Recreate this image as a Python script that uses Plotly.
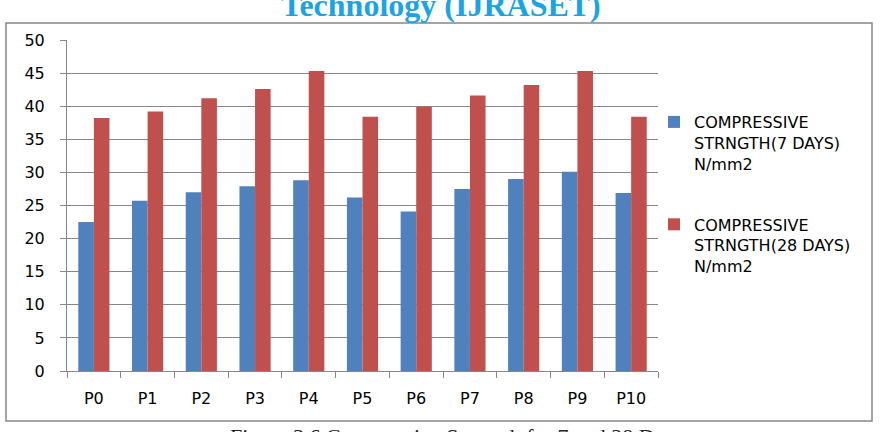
import plotly.graph_objects as go

categories = ["P0", "P1", "P2", "P3", "P4", "P5", "P6", "P7", "P8", "P9", "P10"]
strength_7 = [22.5, 25.7, 27.0, 27.9, 28.8, 26.2, 24.1, 27.5, 29.0, 30.1, 26.9]
strength_28 = [38.2, 39.2, 41.2, 42.6, 45.3, 38.4, 39.9, 41.6, 43.2, 45.3, 38.4]
name_7 = "COMPRESSIVE<br>STRNGTH(7 DAYS)<br>N/mm2"
name_28 = "COMPRESSIVE<br>STRNGTH(28 DAYS)<br>N/mm2"
y_ticks = [0, 5, 10, 15, 20, 25, 30, 35, 40, 45, 50]

W, H = 882, 432
L, R, T, B = 67, 658, 40, 371


def px_x(x):
    return (x - L) / (R - L)


def px_y(y):
    return (B - y) / (B - T)


fig = go.Figure()
fig.add_trace(go.Bar(x=categories, y=strength_7, name=name_7,
                     marker=dict(color="#4f81bd", line=dict(width=0)),
                     legendgroup="a"))
fig.add_trace(go.Bar(x=categories, y=strength_28, name=name_28,
                     marker=dict(color="#c0504d", line=dict(width=0)),
                     legendgroup="b"))

font = "DejaVu Sans"
fig.update_layout(
    width=W, height=H,
    margin=dict(l=L, r=W - R, t=T, b=H - B, pad=0),
    paper_bgcolor="white", plot_bgcolor="white",
    barmode="group", bargap=0.42, bargroupgap=0,
    font=dict(family=font, size=16, color="black"),
    showlegend=True,
    legend=dict(x=px_x(654), y=px_y(105), xanchor="left", yanchor="top",
                font=dict(family=font, size=16, color="black"),
                tracegroupgap=37, valign="top", itemwidth=30,
                bgcolor="rgba(0,0,0,0)"),
    xaxis=dict(showgrid=False, showline=True, linecolor="#878787", linewidth=1,
               ticks="outside", tickson="boundaries", ticklen=6, tickcolor="#878787",
               ticklabelstandoff=13, tickfont=dict(size=16)),
    yaxis=dict(range=[0, 50], tickvals=y_ticks, showgrid=True, gridcolor="#878787",
               gridwidth=1, showline=True, linecolor="#878787", linewidth=1,
               ticks="outside", ticklen=6, tickcolor="#878787",
               ticklabelstandoff=12, zeroline=False, tickfont=dict(size=16)),
)

# outer chart frame
fig.add_shape(type="rect", xref="paper", yref="paper",
              x0=px_x(6), x1=px_x(872), y0=px_y(421), y1=px_y(23),
              line=dict(color="#868686", width=1.5), layer="below")

# page header (cut off) and caption (cut off)
fig.add_annotation(text="<b>Technology (IJRASET)</b>", xref="paper", yref="paper",
                   x=px_x(441), y=px_y(25), xanchor="center", yanchor="bottom",
                   showarrow=False,
                   font=dict(family="Liberation Serif", size=32, color="#1ca3e2"))
fig.add_annotation(text="Figure 3.6 Compressive Strength for 7 and 28 Days",
                   xref="paper", yref="paper",
                   x=px_x(228), y=px_y(422), xanchor="left", yanchor="top",
                   showarrow=False,
                   font=dict(family="Liberation Serif", size=22, color="#222222"))

fig.write_html("out.html")
